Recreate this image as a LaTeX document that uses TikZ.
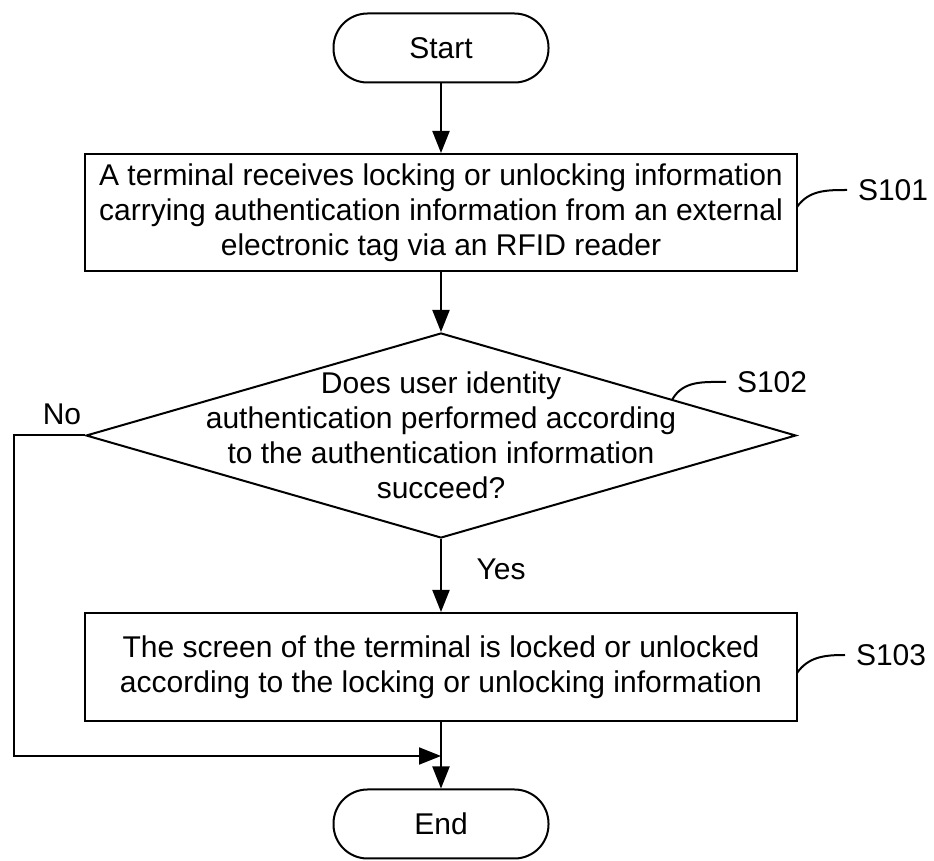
\documentclass[tikz,border=0pt]{standalone}
\usepackage{fontspec}
\setmainfont{Liberation Sans}
\usetikzlibrary{shapes,arrows.meta,positioning,calc}

\begin{document}
\begin{tikzpicture}[x=0.5pt,y=-0.5pt,
    line width=1pt,
    every node/.style={font=\fontsize{15pt}{17.5pt}\selectfont},
    terminal/.style={draw,rectangle,rounded corners=17pt,minimum width=107.5pt,minimum height=34.5pt},
    process/.style={draw,rectangle,align=center,minimum width=356pt,inner sep=0pt},
    decision/.style={draw,diamond,minimum width=355pt,minimum height=102.5pt,inner sep=0pt},
    steplabel/.style={inner sep=2pt},
    flow/.style={-{Triangle[length=11pt,width=8.5pt]}}
    ]
    \useasboundingbox (0,0) rectangle (934,861);

    % the steps
    \node[terminal] (start) at (441,48) {Start};
    \node[process,minimum height=58.5pt] (s101) at (441,212.5)
        {A terminal receives locking or unlocking information\\
         carrying authentication information from an external\\
         electronic tag via an RFID reader};
    \node[decision] (s102) at (441,435.5) {};
    \node[align=center,inner sep=0pt] (q102) at (s102.center)
        {Does user identity\\
         authentication performed according\\
         to the authentication information\\
         succeed?};
    \node[process,minimum height=54pt] (s103) at (441,667)
        {The screen of the terminal is locked or unlocked\\
         according to the locking or unlocking information};
    \node[terminal] (end) at (441,824) {End};

    % the arrows
    \coordinate (nocorner) at (14,756);
    \coordinate (merge) at (441,756);
    \draw[flow] (start) -- (s101);
    \draw[flow] (s101) -- (s102.north);
    \draw[flow] (s102.south) -- node[right=14pt,pos=0.42] (yes) {Yes} (s103);
    \draw[flow] (s103) -- (end);
    \draw[flow] (s102.west) -| (nocorner) -- (merge);
    \node (no) at (62,414) {No};

    % the step numbers
    \coordinate (a101) at (797,207);
    \coordinate (b101) at (847,190);
    \node[steplabel,right=3pt of b101] (t101) {S101};
    \draw (a101) to[out=55,in=180] (b101);

    \coordinate (a102) at ($(s102.north)!0.65!(s102.east)$);
    \coordinate (b102) at (726,382);
    \node[steplabel,right=3pt of b102] (t102) {S102};
    \draw (a102) to[out=60,in=180] (b102);

    \coordinate (a103) at (797,673);
    \coordinate (b103) at (845,655);
    \node[steplabel,right=3pt of b103] (t103) {S103};
    \draw (a103) to[out=55,in=180] (b103);
\end{tikzpicture}
\end{document}
